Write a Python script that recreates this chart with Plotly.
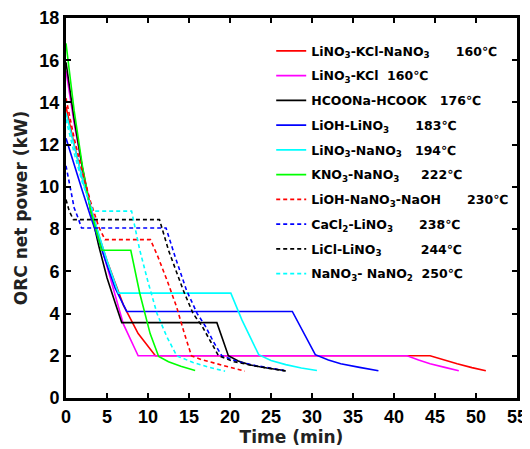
import plotly.graph_objects as go

# ---- data (time in min, power in kW) ----
red_t = [0, 1, 2, 3, 4, 5, 6, 7.0, 8.8, 10.9, 44.4, 46.0, 47.7, 49.5, 51.2]
red_v = [13.8, 12.0, 10.4, 9.0, 7.7, 6.5, 5.4, 4.4, 3.05, 2.0, 2.0, 1.8, 1.62, 1.44, 1.29]

magenta_t = [0, 1, 2, 3, 4, 5, 6, 7.0, 8.8, 41.6, 43.0, 44.4, 46.2, 47.9]
magenta_v = [15.5, 13.0, 10.9, 9.1, 7.6, 6.2, 4.8, 3.5, 2.0, 2.0, 1.8, 1.62, 1.45, 1.29]

black_t = [0, 1, 2, 3, 4, 5, 6, 6.8, 18.4, 19.8, 21.0, 22.5, 24.5, 26.6]
black_v = [15.9, 13.2, 10.9, 8.9, 7.2, 5.7, 4.5, 3.57, 3.57, 2.0, 1.75, 1.56, 1.42, 1.3]

blue_t = [0, 1, 2, 3, 4, 5, 6, 7.4, 27.6, 30.4, 32.0, 33.5, 35.8, 38.1]
blue_v = [12.3, 11.0, 9.8, 8.6, 7.4, 6.3, 5.2, 4.1, 4.1, 2.05, 1.8, 1.62, 1.45, 1.29]

cyan_t = [0, 1, 2, 3, 4, 5, 6.4, 20.1, 21.45, 23.5, 25.0, 26.8, 28.7, 30.6]
cyan_v = [13.5, 11.9, 10.4, 9.0, 7.7, 6.5, 4.97, 4.97, 3.7, 2.05, 1.78, 1.58, 1.42, 1.3]

green_t = [0, 1, 2, 3, 4.35, 7.9, 9.0, 10.26, 11.3, 12.5, 14.0, 15.75]
green_v = [16.8, 13.6, 11.0, 8.9, 7.0, 7.0, 4.95, 3.05, 1.97, 1.72, 1.5, 1.3]

red_dash_t = [0, 1, 2, 3, 4, 4.76, 10.3, 11.2, 12.3, 13.5, 14.4, 15.3, 16.5, 18.6, 21.8]
red_dash_v = [14.2, 12.3, 10.7, 9.3, 8.1, 7.5, 7.5, 6.7, 5.6, 4.3, 3.1, 2.0, 1.82, 1.59, 1.27]

blue_dash_t = [0, 0.5, 1.0, 1.5, 1.9, 12.2, 13.3, 14.7, 16.0, 17.0, 18.0, 19.0, 21.0, 23.1, 27.0]
blue_dash_v = [11.0, 9.9, 9.0, 8.5, 8.05, 8.05, 6.7, 5.1, 4.0, 3.4, 2.65, 2.0, 1.72, 1.54, 1.27]

black_dash_t = [0, 0.4, 0.9, 11.4, 12.5, 14.3, 15.5, 16.6, 17.6, 18.6, 20.5, 23.0, 26.9]
black_dash_v = [9.4, 8.85, 8.45, 8.45, 7.0, 5.1, 4.0, 3.4, 2.7, 2.0, 1.72, 1.52, 1.27]

cyan_dash_t = [0, 1, 2, 3.3, 8.0, 9.0, 10.0, 11.1, 12.3, 13.5, 15.5, 17.4, 19.4]
cyan_dash_v = [13.2, 11.6, 10.2, 8.85, 8.85, 7.0, 5.5, 4.0, 2.9, 2.0, 1.68, 1.46, 1.27]

S = "\u00a0"
names = [
    "LiNO<sub>3</sub>-KCl-NaNO<sub>3</sub>" + S * 6 + "160℃",
    "LiNO<sub>3</sub>-KCl" + S * 2 + "160℃",
    "HCOONa-HCOOK" + S * 3 + "176℃",
    "LiOH-LiNO<sub>3</sub>" + S * 6 + "183℃",
    "LiNO<sub>3</sub>-NaNO<sub>3</sub>" + S * 3 + "194℃",
    "KNO<sub>3</sub>-NaNO<sub>3</sub>" + S * 5 + "222℃",
    "LiOH-NaNO<sub>3</sub>-NaOH" + S * 6 + "230℃",
    "CaCl<sub>2</sub>-LiNO<sub>3</sub>" + S * 6 + "238℃",
    "LiCl-LiNO<sub>3</sub>" + S * 9 + "244℃",
    "NaNO<sub>3</sub>- NaNO<sub>2</sub>" + S * 2 + "250℃",
]

series = [
    (red_t, red_v, "#ff0000", "solid"),
    (magenta_t, magenta_v, "#ff00ff", "solid"),
    (black_t, black_v, "#000000", "solid"),
    (blue_t, blue_v, "#0000ff", "solid"),
    (cyan_t, cyan_v, "#00ffff", "solid"),
    (green_t, green_v, "#00ff00", "solid"),
    (red_dash_t, red_dash_v, "#ff0000", "4px,3px"),
    (blue_dash_t, blue_dash_v, "#0000ff", "4px,3px"),
    (black_dash_t, black_dash_v, "#000000", "4px,3px"),
    (cyan_dash_t, cyan_dash_v, "#00ffff", "4px,3px"),
]

TICKFONT = "Liberation Sans, Arial, sans-serif"
WIDE = "DejaVu Sans, Verdana, sans-serif"

fig = go.Figure()
for i, ((t, v, c, d), n) in enumerate(zip(series, names)):
    fig.add_trace(go.Scatter(x=t, y=v, mode="lines", name=n, legendgroup=f"g{i}",
                             line=dict(color=c, width=1.6, dash=d)))

axis_common = dict(
    showline=True, linecolor="black", linewidth=3, mirror="ticks",
    ticks="inside", ticklen=5, tickwidth=2, tickcolor="black",
    showgrid=False, zeroline=False, automargin=False,
    tickfont=dict(family=TICKFONT, size=18, color="black", weight="bold"),
)

# page body has an 8px default margin, so the figure is sized to fit inside it
fig.update_layout(
    width=522, height=441,
    margin=dict(l=58, r=13, t=10, b=51),
    paper_bgcolor="white", plot_bgcolor="white",
    showlegend=True,
    legend=dict(x=0.455, y=0.952, xanchor="left", yanchor="top",
                bgcolor="rgba(0,0,0,0)", borderwidth=0,
                font=dict(family=WIDE, size=12.5, color="black", weight="bold"),
                itemwidth=30, tracegroupgap=5.5),
    xaxis=dict(range=[0, 55], dtick=5, tick0=0,
               title=dict(text="Time (min)", standoff=4,
                          font=dict(family=WIDE, size=17, color="#222", weight="bold")),
               **axis_common),
    yaxis=dict(range=[0, 18], dtick=2, tick0=0,
               title=dict(text="ORC net power (kW)", standoff=8,
                          font=dict(family=WIDE, size=17, color="#222", weight="bold")),
               **axis_common),
)

fig.write_html("out.html")
